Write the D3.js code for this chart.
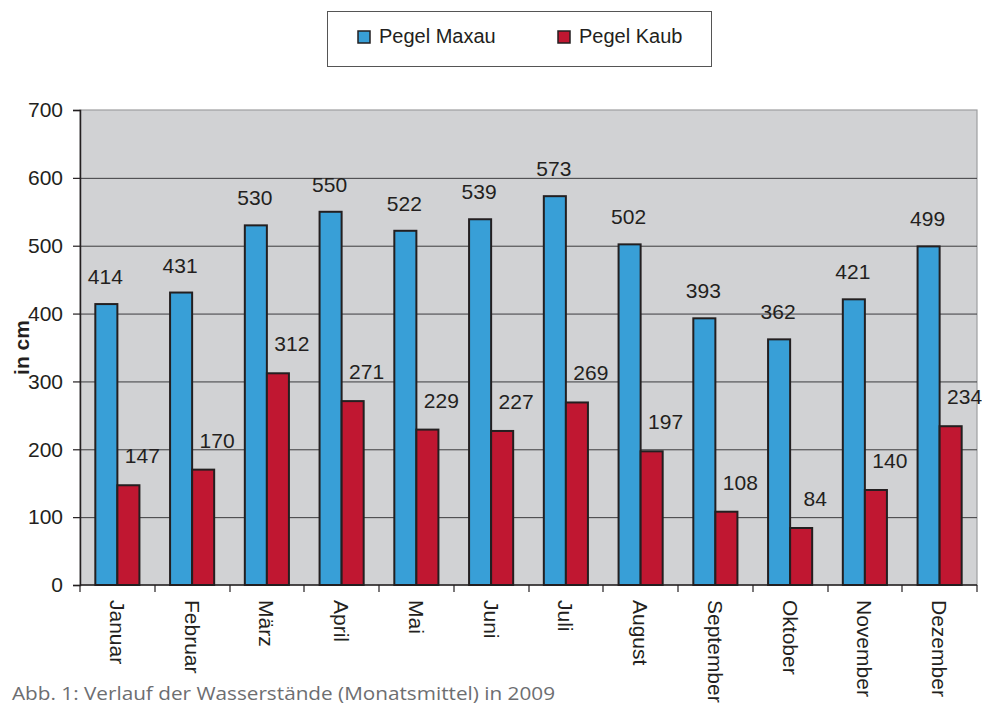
<!DOCTYPE html>
<html>
<head>
<meta charset="utf-8">
<script src="https://cdn.jsdelivr.net/npm/d3@7"></script>
<style>
  body { margin: 0; background: #fff; }
  svg { display: block; font-family: "Liberation Sans", Arial, sans-serif; }
</style>
</head>
<body>
<div id="chart"></div>
<script>
// Data
var months = ["Januar", "Februar", "März", "April", "Mai", "Juni", "Juli",
  "August", "September", "Oktober", "November", "Dezember"];
var seriesNames = ["Pegel Maxau", "Pegel Kaub"];
var maxau = [414, 431, 530, 550, 522, 539, 573, 502, 393, 362, 421, 499];
var kaub = [147, 170, 312, 271, 229, 227, 269, 197, 108, 84, 140, 234];
var yTicks = [0, 100, 200, 300, 400, 500, 600, 700];
var caption = "Abb. 1: Verlauf der Wasserstände (Monatsmittel) in 2009";

var colors = { "Pegel Maxau": "#389fd7", "Pegel Kaub": "#c01731" };

var svgWidth = 982;
var svgHeight = 706;

var margin = { top: 110, right: 5, bottom: 121, left: 80 };
var width = svgWidth - margin.left - margin.right;
var height = svgHeight - margin.top - margin.bottom;

var svg = d3.select("#chart")
  .append("svg")
  .attr("width", svgWidth)
  .attr("height", svgHeight);

var chartGroup = svg.append("g")
  .attr("transform", `translate(${margin.left}, ${margin.top})`);

// scales
var x0 = d3.scaleBand()
  .domain(months)
  .range([0, width])
  .paddingInner(0.41)
  .paddingOuter(0.205);

var x1 = d3.scaleBand()
  .domain(seriesNames)
  .range([0, x0.bandwidth()]);

var yLinearScale = d3.scaleLinear()
  .domain([0, 700])
  .range([height, 0]);

// plot background
chartGroup.append("rect")
  .attr("width", width)
  .attr("height", height)
  .attr("fill", "#d1d2d4")
  .attr("stroke", "#9d9ea0")
  .attr("stroke-width", 1.2);

// gridlines
chartGroup.selectAll(".grid")
  .data(yTicks.filter(d => d > 0 && d < 700))
  .enter()
  .append("line")
  .attr("x1", 0)
  .attr("x2", width)
  .attr("y1", d => yLinearScale(d) + 0.5)
  .attr("y2", d => yLinearScale(d) + 0.5)
  .attr("stroke", "#3c3c3e")
  .attr("stroke-width", 1);

// table built from the arrays
var rows = months.map((m, i) => ({ month: m, values: [
  { key: seriesNames[0], value: maxau[i] },
  { key: seriesNames[1], value: kaub[i] }
] }));

var groups = chartGroup.selectAll(".month")
  .data(rows)
  .enter()
  .append("g")
  .attr("transform", d => `translate(${x0(d.month)}, 0)`);

groups.selectAll("rect")
  .data(d => d.values)
  .enter()
  .append("rect")
  .attr("x", d => x1(d.key))
  .attr("y", d => yLinearScale(d.value))
  .attr("width", x1.bandwidth())
  .attr("height", d => height - yLinearScale(d.value))
  .attr("fill", d => colors[d.key])
  .attr("stroke", "#231f20")
  .attr("stroke-width", 2);

// value labels
groups.selectAll(".val")
  .data(d => d.values)
  .enter()
  .append("text")
  .attr("x", d => x1(d.key) + x1.bandwidth() / 2 + (d.key === seriesNames[0] ? -1 : 14))
  .attr("y", d => yLinearScale(d.value) - (d.key === seriesNames[0] ? 20 : 22))
  .attr("text-anchor", "middle")
  .attr("font-size", "21px")
  .attr("fill", "#231f20")
  .text(d => d.value);

// y axis
var leftAxis = d3.axisLeft(yLinearScale)
  .tickValues(yTicks)
  .tickSize(7)
  .tickPadding(10);

var yAxis = chartGroup.append("g").call(leftAxis);
yAxis.select(".domain").attr("stroke", "#231f20").attr("stroke-width", 1.5);
yAxis.selectAll(".tick line").attr("stroke", "#231f20").attr("stroke-width", 1.2);
yAxis.selectAll(".tick text")
  .attr("font-size", "21px")
  .attr("font-family", "Liberation Sans, Arial, sans-serif")
  .attr("fill", "#231f20");

// x axis: ticks at category boundaries
var xAxis = chartGroup.append("g")
  .attr("transform", `translate(0, ${height})`);

xAxis.append("line")
  .attr("x1", 0)
  .attr("x2", width)
  .attr("stroke", "#231f20")
  .attr("stroke-width", 1.5);

var step = x0.step();
xAxis.selectAll(".xtick")
  .data(d3.range(months.length + 1))
  .enter()
  .append("line")
  .attr("x1", d => Math.round(d * step))
  .attr("x2", d => Math.round(d * step))
  .attr("y1", 0)
  .attr("y2", 7)
  .attr("stroke", "#231f20")
  .attr("stroke-width", 1.2);

xAxis.selectAll(".xlabel")
  .data(months)
  .enter()
  .append("text")
  .attr("transform", d => `translate(${x0(d) + x0.bandwidth() / 2}, 15) rotate(90)`)
  .attr("dominant-baseline", "central")
  .attr("font-size", "21px")
  .attr("fill", "#231f20")
  .text(d => d);

// y axis title
svg.append("text")
  .attr("transform", `translate(29, ${margin.top + height / 2}) rotate(-90)`)
  .attr("text-anchor", "middle")
  .attr("font-size", "21px")
  .attr("font-weight", "bold")
  .attr("fill", "#231f20")
  .text("in cm");

// legend
var legend = svg.append("g");
legend.append("rect")
  .attr("x", 327.5)
  .attr("y", 11.5)
  .attr("width", 384)
  .attr("height", 55)
  .attr("fill", "#fff")
  .attr("stroke", "#555")
  .attr("stroke-width", 1);

var legendX = [358, 558];
seriesNames.forEach(function (name, i) {
  legend.append("rect")
    .attr("x", legendX[i])
    .attr("y", 31)
    .attr("width", 12)
    .attr("height", 12)
    .attr("fill", colors[name])
    .attr("stroke", "#231f20")
    .attr("stroke-width", 1.5);
  legend.append("text")
    .attr("x", legendX[i] + 21)
    .attr("y", 43)
    .attr("font-size", "20px")
    .attr("fill", "#231f20")
    .text(name);
});

// caption
svg.append("text")
  .attr("x", 12)
  .attr("y", 700)
  .attr("font-family", "Open Sans, sans-serif")
  .attr("font-size", "19px")
  .attr("fill", "#6d6e71")
  .attr("textLength", 543)
  .attr("lengthAdjust", "spacingAndGlyphs")
  .text(caption);
</script>
</body>
</html>
